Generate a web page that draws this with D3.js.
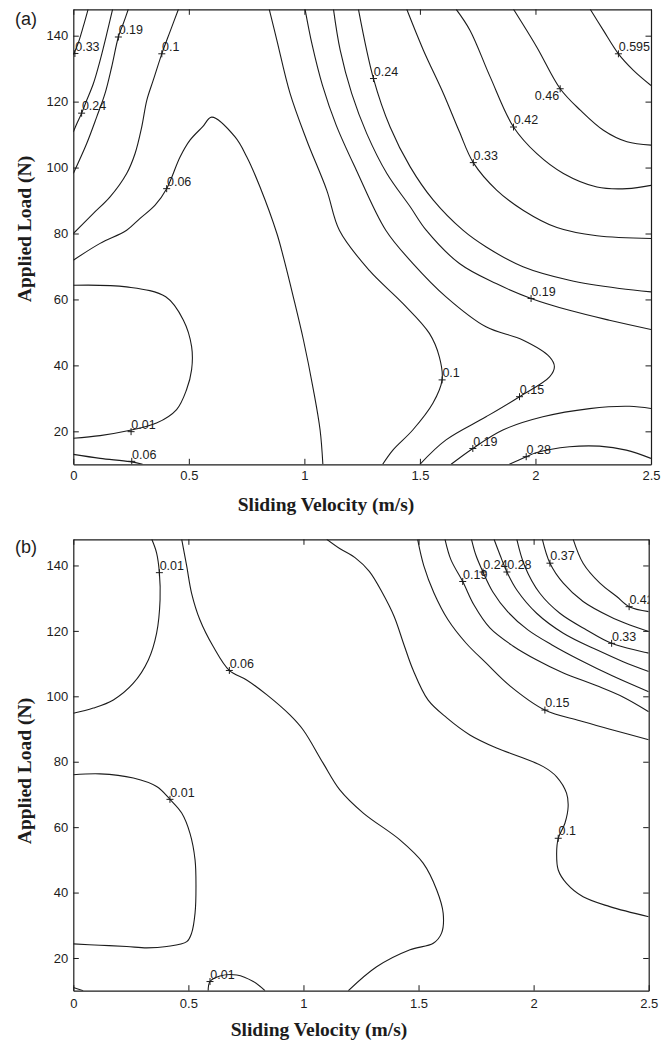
<!DOCTYPE html>
<html><head><meta charset="utf-8">
<script src="https://cdn.jsdelivr.net/npm/d3@7"></script>
<style>body{margin:0;background:#fff} svg{display:block}</style>
</head><body><svg id="chart" width="672" height="1040"></svg>
<script>
// ---------- data ----------
const xDomain = [0, 2.5];
const yDomain = [10, 148];
const xTicks = [0, 0.5, 1, 1.5, 2, 2.5];
const xTickLabels = ['0', '0.5', '1', '1.5', '2', '2.5'];
const yTicks = [20, 40, 60, 80, 100, 120, 140];
const yTickLabels = ['20', '40', '60', '80', '100', '120', '140'];
const xTitle = 'Sliding Velocity (m/s)';
const yTitle = 'Applied Load (N)';

// panel (a) contour lines: [velocity, load]
const a_033L = [[0.064,148],[0.042,142.5],[0.02,137.5],[0,134.2]];
const a_024L = [[0.17,148],[0.145,140.6],[0.116,132.5],[0.087,125.5],[0.058,120.4],[0.036,116.5],[0.015,113.3],[0,110.8]];
const a_019L = [[0.238,148],[0.216,143.6],[0.195,139.6],[0.166,130.5],[0.137,122.4],[0.101,115.3],[0.058,107.3],[0,98.2]];
const a_010L = [[0.455,148],[0.419,141.3],[0.383,134.5],[0.346,126.5],[0.318,120.4],[0.296,112.3],[0.267,104.2],[0.231,98.2],[0.159,91.1],[0.087,86.1],[0,80]];
const a_006 = [[0,71.9],[0.116,77],[0.231,81],[0.289,84.6],[0.354,88.6],[0.404,93.6],[0.462,103.2],[0.505,108.3],[0.56,112.4],[0.599,115.3],[0.7,109.3],[0.751,103.2],[0.808,94.1],[0.881,80],[0.909,72.9],[0.952,60.8],[0.996,47.7],[1.039,32.6],[1.068,20.4],[1.08,10]];
const a_001 = [[0,64.3],[0.23,63.8],[0.4,60.8],[0.476,53.8],[0.512,45.7],[0.512,38.7],[0.49,32.6],[0.447,26.6],[0.36,22.5],[0.23,20.1],[0.116,18.7],[0,17.9]];
const a_006B = [[0,13],[0.116,11.8],[0.245,10.8],[0.3,10]];
const a_010R = [[0.848,148],[0.881,138.6],[0.938,122.5],[1.01,108.3],[1.097,93.1],[1.152,80.9],[1.281,68.8],[1.426,58.8],[1.541,49.7],[1.584,42.6],[1.596,35.6],[1.556,28.5],[1.469,20.4],[1.383,14.3],[1.339,10]];
const a_015 = [[1.003,148],[1.034,137.1],[1.078,125],[1.138,112.8],[1.225,99.2],[1.353,80.9],[1.47,70.9],[1.613,60.8],[1.786,51.7],[1.945,47.7],[2.061,42.6],[2.082,39.6],[2.061,36.5],[1.931,30.5],[1.786,24.4],[1.613,17.4],[1.5,10]];
const a_019R = [[1.126,148],[1.155,135.6],[1.205,122.4],[1.27,110.3],[1.357,98.2],[1.458,88.1],[1.527,81],[1.671,70.9],[1.83,64.8],[1.981,60.3],[2.147,56.7],[2.32,53.7],[2.5,50.9]];
const a_024R = [[1.234,148],[1.299,127],[1.371,112.3],[1.458,100.2],[1.558,90.1],[1.686,81],[1.787,75.9],[1.946,69.9],[2.147,65.8],[2.364,63.3],[2.5,62.3]];
const a_033R = [[1.443,148],[1.515,135.6],[1.602,122.4],[1.67,111],[1.731,101.5],[1.833,93.1],[1.948,87],[2.093,81.8],[2.266,79.3],[2.5,78.5]];
const a_042 = [[1.657,148],[1.717,141.6],[1.804,127.5],[1.905,112.3],[2.006,104.2],[2.121,98.2],[2.266,94.1],[2.396,93.6],[2.5,94.6]];
const a_046 = [[1.905,148],[2.006,136.5],[2.107,123.9],[2.194,117.4],[2.294,111.3],[2.396,107.8],[2.5,106.8]];
const a_0595 = [[2.237,148],[2.294,141.6],[2.359,134.5],[2.424,129.5],[2.5,124.9]];
const a_019B = [[1.635,10],[1.729,14.8],[1.859,20.4],[2.032,24.4],[2.234,26.9],[2.407,27.6],[2.5,26.9]];
const a_028 = [[1.887,10],[1.96,12.3],[2.003,13.5],[2.147,15.3],[2.277,15.5],[2.393,14.3],[2.5,11.8]];
const contoursA = [a_033L, a_024L, a_019L, a_010L, a_006, a_001, a_006B, a_010R, a_015, a_019R, a_024R, a_033R, a_042, a_046, a_0595, a_019B, a_028];
// labels: [text, velocity, load, placement]
const labelsA = [
  ['0.33',0.007,134.6],['0.19',0.195,139.6],['0.1',0.383,134.5],['0.24',0.036,116.5],
  ['0.06',0.404,93.6],['0.01',0.25,19.9],['0.06',0.253,10.9],['0.24',1.299,127.0],
  ['0.595',2.359,134.5],['0.46',2.107,123.9,'left'],['0.42',1.905,112.3],['0.33',1.731,101.5],
  ['0.19',1.981,60.3],['0.1',1.596,35.6],['0.15',1.931,30.5],['0.19',1.729,14.8],['0.28',1.96,12.3]
];

// panel (b) contour lines
const b_001T = [[0.341,148],[0.362,143.8],[0.374,137.8],[0.377,129.5],[0.362,119.3],[0.326,111.1],[0.261,104],[0.174,98.9],[0.087,96.4],[0,94.8]];
const b_006 = [[0.471,148],[0.493,139.7],[0.514,131.5],[0.55,123.4],[0.608,115.2],[0.678,107.9],[0.753,105],[0.84,100.5],[0.941,94.3],[0.999,89.7],[1.086,79.5],[1.158,71.4],[1.26,64.3],[1.419,56.1],[1.52,49],[1.579,40.8],[1.607,33.7],[1.6,27.6],[1.564,24.5],[1.463,22.5],[1.318,17.3],[1.195,10]];
const b_001M = [[0,76],[0.116,76.3],[0.261,75],[0.362,72.4],[0.42,68.5],[0.471,64.3],[0.507,58.1],[0.529,50],[0.533,41.8],[0.529,33.7],[0.514,27.6],[0.493,25],[0.406,23.5],[0.319,23.1],[0.232,23.5],[0.116,23.9],[0,24.3]];
const b_001B = [[0.586,10],[0.594,12.8],[0.637,14.5],[0.71,14.8],[0.782,12.8],[0.833,10]];
const b_corner = [[0,11],[0.043,10]];
const b_010 = [[1.101,148],[1.159,145.1],[1.224,142.4],[1.286,138.2],[1.344,131.5],[1.394,124.4],[1.437,115.7],[1.476,108.1],[1.541,98.9],[1.623,93.4],[1.723,88.2],[1.839,84.2],[1.94,81.5],[2.042,78.5],[2.1,75.4],[2.143,70.4],[2.15,66.3],[2.136,61.2],[2.107,56.6],[2.1,52],[2.107,46.9],[2.143,42.8],[2.215,38.7],[2.331,35.7],[2.5,32.6]];
const b_015 = [[1.496,148],[1.523,139.9],[1.567,131.6],[1.628,123.4],[1.706,116.3],[1.793,110.2],[1.897,103.2],[2.049,95.8],[2.201,92.5],[2.344,89.7],[2.5,86.7]];
const b_019 = [[1.615,148],[1.641,141.7],[1.692,135.1],[1.741,127.9],[1.81,120.9],[1.91,115.4],[2.014,111.1],[2.127,107.2],[2.275,103.2],[2.388,99.8],[2.5,95.3]];
const b_024 = [[1.73,148],[1.749,143.2],[1.78,138],[1.823,131.9],[1.888,125.8],[1.975,120.3],[2.08,115.7],[2.201,111.1],[2.344,106.2],[2.5,101.4]];
const b_028 = [[1.828,148],[1.854,143.2],[1.884,138],[1.927,132.5],[2.013,125.4],[2.129,119.3],[2.274,114.2],[2.389,110.6],[2.5,107.6]];
const b_033 = [[1.927,148],[1.962,139.7],[2.027,131.5],[2.114,125.4],[2.23,120.3],[2.339,116.2],[2.5,113.2]];
const b_037 = [[2.038,148],[2.071,140.7],[2.129,134.6],[2.215,129],[2.331,124.4],[2.418,121.8],[2.5,119.8]];
const b_042 = [[2.172,148],[2.215,140.7],[2.288,134.6],[2.361,130.5],[2.415,127.4],[2.5,125.9]];
const contoursB = [b_001T, b_006, b_001M, b_001B, b_corner, b_010, b_015, b_019, b_024, b_028, b_033, b_037, b_042];
const labelsB = [
  ['0.01',0.374,137.8],['0.06',0.678,107.9],['0.01',0.42,68.5],['0.01',0.594,12.8],
  ['0.1',2.107,56.6],['0.15',2.049,95.8],['0.19',1.692,135.1],['0.24',1.78,138.0],
  ['0.28',1.884,138.0],['0.33',2.339,116.2],['0.37',2.071,140.7],['0.42',2.415,127.4]
];

// ---------- layout ----------
const panels = [
  {id:'a', left:73.3, right:651, top:9.3, bottom:464.3, letterY:25, xPad:6, xTitleX:326, xTitleY:511, yTitleY:229, contours:contoursA, labels:labelsA},
  {id:'b', left:73.3, right:648.7, top:539.3, bottom:990.7, letterY:552.5, xPad:8, xTitleX:319, xTitleY:1036, yTitleY:771, contours:contoursB, labels:labelsB}
];
const INK = '#1c1c1c';
const SANS = '"Liberation Sans", Arial, sans-serif';
const SERIF = '"Liberation Serif", "Times New Roman", serif';

const svg = d3.select('#chart');
svg.append('rect').attr('width', 672).attr('height', 1040).attr('fill', '#fff');

panels.forEach(p => {
  const x = d3.scaleLinear().domain(xDomain).range([p.left, p.right]);
  const y = d3.scaleLinear().domain(yDomain).range([p.bottom, p.top]);
  const g = svg.append('g');
  const clipId = 'clip-' + p.id;
  svg.append('clipPath').attr('id', clipId).append('rect')
    .attr('x', p.left).attr('y', p.top).attr('width', p.right - p.left).attr('height', p.bottom - p.top);

  const line = d3.line().x(d => x(d[0])).y(d => y(d[1])).curve(d3.curveCatmullRom.alpha(0.5));
  const cg = g.append('g').attr('clip-path', `url(#${clipId})`);
  cg.selectAll('path.contour').data(p.contours).join('path')
    .attr('class', 'contour').attr('d', line)
    .attr('fill', 'none').attr('stroke', INK).attr('stroke-width', 1.1).attr('stroke-linejoin', 'round');

  // contour labels with '+' markers
  const lg = cg.append('g');
  p.labels.forEach(l => {
    const cx = x(l[1]), cy = y(l[2]);
    lg.append('path').attr('d', `M${cx-3.5},${cy}h7M${cx},${cy-3.5}v7`)
      .attr('stroke', INK).attr('stroke-width', 1);
    const t = lg.append('text').text(l[0])
      .attr('font-family', SANS).attr('font-size', 12.5).attr('fill', INK);
    if (l[3] === 'left') t.attr('x', cx - 1).attr('y', cy + 11).attr('text-anchor', 'end');
    else t.attr('x', cx + 0.3).attr('y', cy - 2.8);
  });

  // axes (ticks inward on all four sides)
  const styleAxis = sel => {
    sel.attr('font-family', SANS).attr('font-size', 13);
    sel.selectAll('line').attr('stroke', INK);
    sel.selectAll('path.domain').attr('stroke', INK).attr('stroke-width', 1.2);
    sel.selectAll('text').attr('fill', INK);
  };
  g.append('g').attr('transform', `translate(0,${p.bottom})`)
    .call(d3.axisBottom(x).tickValues(xTicks).tickFormat((d, i) => xTickLabels[i]).tickSizeInner(-5.5).tickSizeOuter(0).tickPadding(p.xPad))
    .call(styleAxis);
  g.append('g').attr('transform', `translate(0,${p.top})`)
    .call(d3.axisTop(x).tickValues(xTicks).tickFormat('').tickSizeInner(-5.5).tickSizeOuter(0))
    .call(styleAxis);
  g.append('g').attr('transform', `translate(${p.left},0)`)
    .call(d3.axisLeft(y).tickValues(yTicks).tickFormat((d, i) => yTickLabels[i]).tickSizeInner(-5.5).tickSizeOuter(0).tickPadding(5))
    .call(styleAxis);
  g.append('g').attr('transform', `translate(${p.right},0)`)
    .call(d3.axisRight(y).tickValues(yTicks).tickFormat('').tickSizeInner(-5.5).tickSizeOuter(0))
    .call(styleAxis);

  // titles
  g.append('text').text(xTitle).attr('x', p.xTitleX).attr('y', p.xTitleY)
    .attr('text-anchor', 'middle').attr('font-family', SERIF).attr('font-weight', 'bold')
    .attr('font-size', 19.5).attr('fill', INK);
  g.append('text').text(yTitle)
    .attr('transform', `translate(31,${p.yTitleY}) rotate(-90)`)
    .attr('text-anchor', 'middle').attr('font-family', SERIF).attr('font-weight', 'bold')
    .attr('font-size', 19.5).attr('fill', INK);
  g.append('text').text(`(${p.id})`).attr('x', 15).attr('y', p.letterY)
    .attr('font-family', SANS).attr('font-size', 18).attr('fill', INK);
});
</script></body></html>
